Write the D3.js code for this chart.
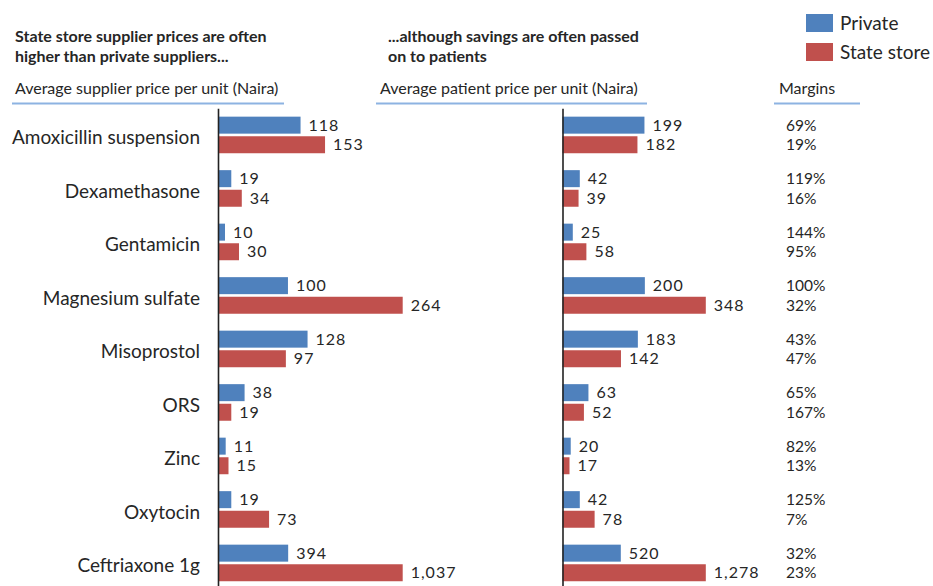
<!DOCTYPE html>
<html>
<head>
<meta charset="utf-8">
<script src="https://cdn.jsdelivr.net/npm/d3@7"></script>
<style>
  html, body { margin: 0; padding: 0; background: #fff; }
  svg { display: block; font-family: Lato, "Open Sans", sans-serif; }
</style>
</head>
<body>
<svg id="chart" width="933" height="586"></svg>
<script>
const categories = ["Amoxicillin suspension", "Dexamethasone", "Gentamicin", "Magnesium sulfate",
  "Misoprostol", "ORS", "Zinc", "Oxytocin", "Ceftriaxone 1g"];
const seriesNames = ["Private", "State store"];
const supplierPrivate = [118, 19, 10, 100, 128, 38, 11, 19, 394];
const supplierState   = [153, 34, 30, 264, 97, 19, 15, 73, 1037];
const patientPrivate  = [199, 42, 25, 200, 183, 63, 20, 42, 520];
const patientState    = [182, 39, 58, 348, 142, 52, 17, 78, 1278];
const marginPrivate   = [69, 119, 144, 100, 43, 65, 82, 125, 32];
const marginState     = [19, 16, 95, 32, 47, 167, 13, 7, 23];
const titleLeft = ["State store supplier prices are often", "higher than private suppliers..."];
const titleRight = ["...although savings are often passed", "on to patients"];
const subLeft = "Average supplier price per unit (Naira)";
const subRight = "Average patient price per unit (Naira)";
const subMargins = "Margins";

const colors = ["#4F81BD", "#C0504D"];
const textColor = "#262626";
const svg = d3.select("#chart");

// Row layout
const y = d3.scaleBand().domain(categories).range([108.2, 108.2 + 53.5 * categories.length])
  .paddingInner(0.316).paddingOuter(0.158);
const ySub = d3.scaleBand().domain(seriesNames).range([0, y.bandwidth()]).paddingInner(0.133);

// Each panel: row scale; rows whose values exceed the cap (second largest row max) are drawn on their own compressed scale
function panel(x0, width, privVals, stateVals) {
  const rowMax = categories.map((c, i) => Math.max(privVals[i], stateVals[i]));
  const cap = rowMax.slice().sort((a, b) => b - a)[1];
  const scales = rowMax.map(m => d3.scaleLinear().domain([0, Math.max(cap, m)]).range([x0, x0 + width]));
  const g = svg.append("g");
  categories.forEach((c, i) => {
    const vals = [privVals[i], stateVals[i]];
    const rg = g.append("g").attr("transform", `translate(0,${y(c)})`);
    rg.selectAll("rect").data(vals).join("rect")
      .attr("x", x0)
      .attr("y", (d, j) => ySub(seriesNames[j]))
      .attr("width", d => scales[i](d) - x0)
      .attr("height", ySub.bandwidth())
      .attr("fill", (d, j) => colors[j]);
    rg.selectAll("text").data(vals).join("text")
      .attr("x", d => scales[i](d) + 8)
      .attr("y", (d, j) => ySub(seriesNames[j]) + ySub.bandwidth() / 2)
      .attr("dy", "0.36em")
      .attr("font-size", 16)
      .attr("letter-spacing", 1)
      .attr("fill", textColor)
      .text(d => d3.format(",")(d));
  });
  return g;
}

panel(218, 184.7, supplierPrivate, supplierState);
panel(562.5, 143.3, patientPrivate, patientState);

// Axes
const axL = svg.append("g").attr("transform", "translate(218,0)")
  .call(d3.axisLeft(y).tickSize(0).tickPadding(18));
axL.select(".domain").attr("stroke", "#222").attr("stroke-width", 1.6);
axL.selectAll("text").attr("font-size", 19).attr("dy", "0.5em")
  .attr("fill", textColor).attr("font-family", "Lato, sans-serif");

const axR = svg.append("g").attr("transform", "translate(562.5,0)")
  .call(d3.axisLeft(y).tickSize(0).tickFormat(""));
axR.select(".domain").attr("stroke", "#222").attr("stroke-width", 1.6);

// Margins column
const mg = svg.append("g");
categories.forEach((c, i) => {
  [marginPrivate[i], marginState[i]].forEach((m, j) => {
    mg.append("text")
      .attr("x", 786)
      .attr("y", y(c) + ySub(seriesNames[j]) + ySub.bandwidth() / 2)
      .attr("dy", "0.36em")
      .attr("font-size", 15.5)
      .attr("fill", textColor)
      .text(m + "%");
  });
});

// Titles
function title(lines, x) {
  lines.forEach((t, k) => {
    svg.append("text").attr("x", x).attr("y", 42 + k * 20)
      .attr("font-size", 16).attr("font-weight", "bold").attr("fill", textColor).text(t);
  });
}
title(titleLeft, 15);
title(titleRight, 388);

// Sub headers with underline
function sub(text, x, x1, x2) {
  svg.append("text").attr("x", x).attr("y", 94).attr("font-size", 16).attr("fill", textColor).text(text);
  svg.append("line").attr("x1", x1).attr("x2", x2).attr("y1", 103.5).attr("y2", 103.5)
    .attr("stroke", "#8DB3E2").attr("stroke-width", 2);
}
sub(subLeft, 15, 12, 284);
sub(subRight, 380, 376, 647);
sub(subMargins, 779, 774, 860);

// Legend
const lg = svg.append("g");
seriesNames.forEach((s, j) => {
  lg.append("rect").attr("x", 806).attr("y", 14 + j * 29).attr("width", 27).attr("height", 18).attr("fill", colors[j]);
  lg.append("text").attr("x", 840).attr("y", 23 + j * 29).attr("dy", "0.36em")
    .attr("font-size", 19).attr("fill", textColor).text(s);
});
</script>
</body>
</html>
